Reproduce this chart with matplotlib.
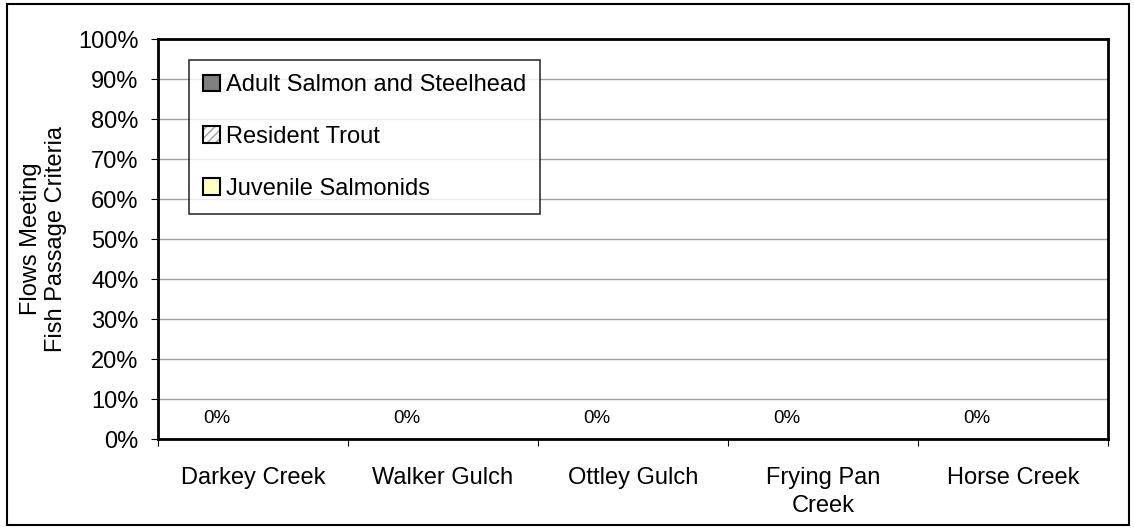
import numpy as np
import matplotlib.pyplot as plt
from matplotlib.patches import Patch
from matplotlib.legend_handler import HandlerTuple

plt.rcParams['font.family'] = ['Liberation Sans', 'DejaVu Sans']

# streams and the share of flows meeting passage criteria for each species group
streams = ['Darkey Creek', 'Walker Gulch', 'Ottley Gulch', 'Frying Pan\nCreek', 'Horse Creek']
adult_salmon = [0.0, 0.0, 0.0, 0.0, 0.0]
resident_trout = [0.0, 0.0, 0.0, 0.0, 0.0]
juvenile_salmonids = [0.0, 0.0, 0.0, 0.0, 0.0]
yticks = np.arange(0, 101, 10)

fs = 17

fig = plt.figure(figsize=(11.34, 5.29), dpi=100)
ax = fig.add_axes([158/1134, 1 - 439/529, 950/1134, 400/529])

# outer chart frame
fig.patches.append(plt.Rectangle((7/1134, 4/529), 1122/1134, 521/529, transform=fig.transFigure,
                                 fill=False, edgecolor='black', linewidth=1.5))

x = np.arange(len(streams))
w = 0.19
ax.bar(x - w, adult_salmon, w, color='#808080', edgecolor='black', zorder=3)
# light grey hatching, black outline on top
ax.bar(x, resident_trout, w, color='white', edgecolor='#a0a0a0', hatch='////', linewidth=0, zorder=3)
ax.bar(x, resident_trout, w, fill=False, edgecolor='black', zorder=4)
ax.bar(x + w, juvenile_salmonids, w, color='#ffffc0', edgecolor='black', zorder=3)

for xi, v in zip(x - w, adult_salmon):
    ax.annotate(f'{v:.0f}%', (xi, v), xytext=(0, 15), textcoords='offset points',
                ha='center', va='center', fontsize=13.5)

ax.set_xlim(-0.5, len(streams) - 0.5)
ax.set_ylim(0, 100)
ax.set_yticks(yticks)
ax.set_yticklabels([f'{t}%' for t in yticks], fontsize=fs)
ax.set_xticks(np.arange(len(streams) + 1) - 0.5)
ax.set_xticklabels([])
ax.set_xticks(x, minor=True)
ax.set_xticklabels(streams, minor=True, fontsize=fs, linespacing=1.38)
ax.tick_params(axis='x', which='minor', length=0, pad=20)
ax.tick_params(axis='x', which='major', length=5, direction='out')
ax.tick_params(axis='y', length=5, direction='out', pad=9)
ax.yaxis.grid(True, color='#a0a0a0', linewidth=1)
ax.set_axisbelow(True)
for s in ax.spines.values():
    s.set_linewidth(2)
ax.set_ylabel('Flows Meeting\nFish Passage Criteria', fontsize=fs, labelpad=8)

handles = [Patch(facecolor='#808080', edgecolor='black', linewidth=1.5),
           (Patch(facecolor='white', edgecolor='#a0a0a0', hatch='////', linewidth=0),
            Patch(fill=False, edgecolor='black', linewidth=1.5)),
           Patch(facecolor='#ffffc0', edgecolor='black', linewidth=1.5)]
leg = ax.legend(handles, ['Adult Salmon and Steelhead', 'Resident Trout', 'Juvenile Salmonids'],
                handler_map={tuple: HandlerTuple(ndivide=1, pad=0)},
                loc='upper left', bbox_to_anchor=(31/950, 1 - 21/400), fontsize=fs,
                frameon=True, fancybox=False, handlelength=0.7, handleheight=0.7,
                handletextpad=0.25, labelspacing=1.26, borderpad=0.6, borderaxespad=0)
leg.get_frame().set_edgecolor('black')
leg.get_frame().set_linewidth(1.2)

fig.savefig('out.png', dpi=100)
